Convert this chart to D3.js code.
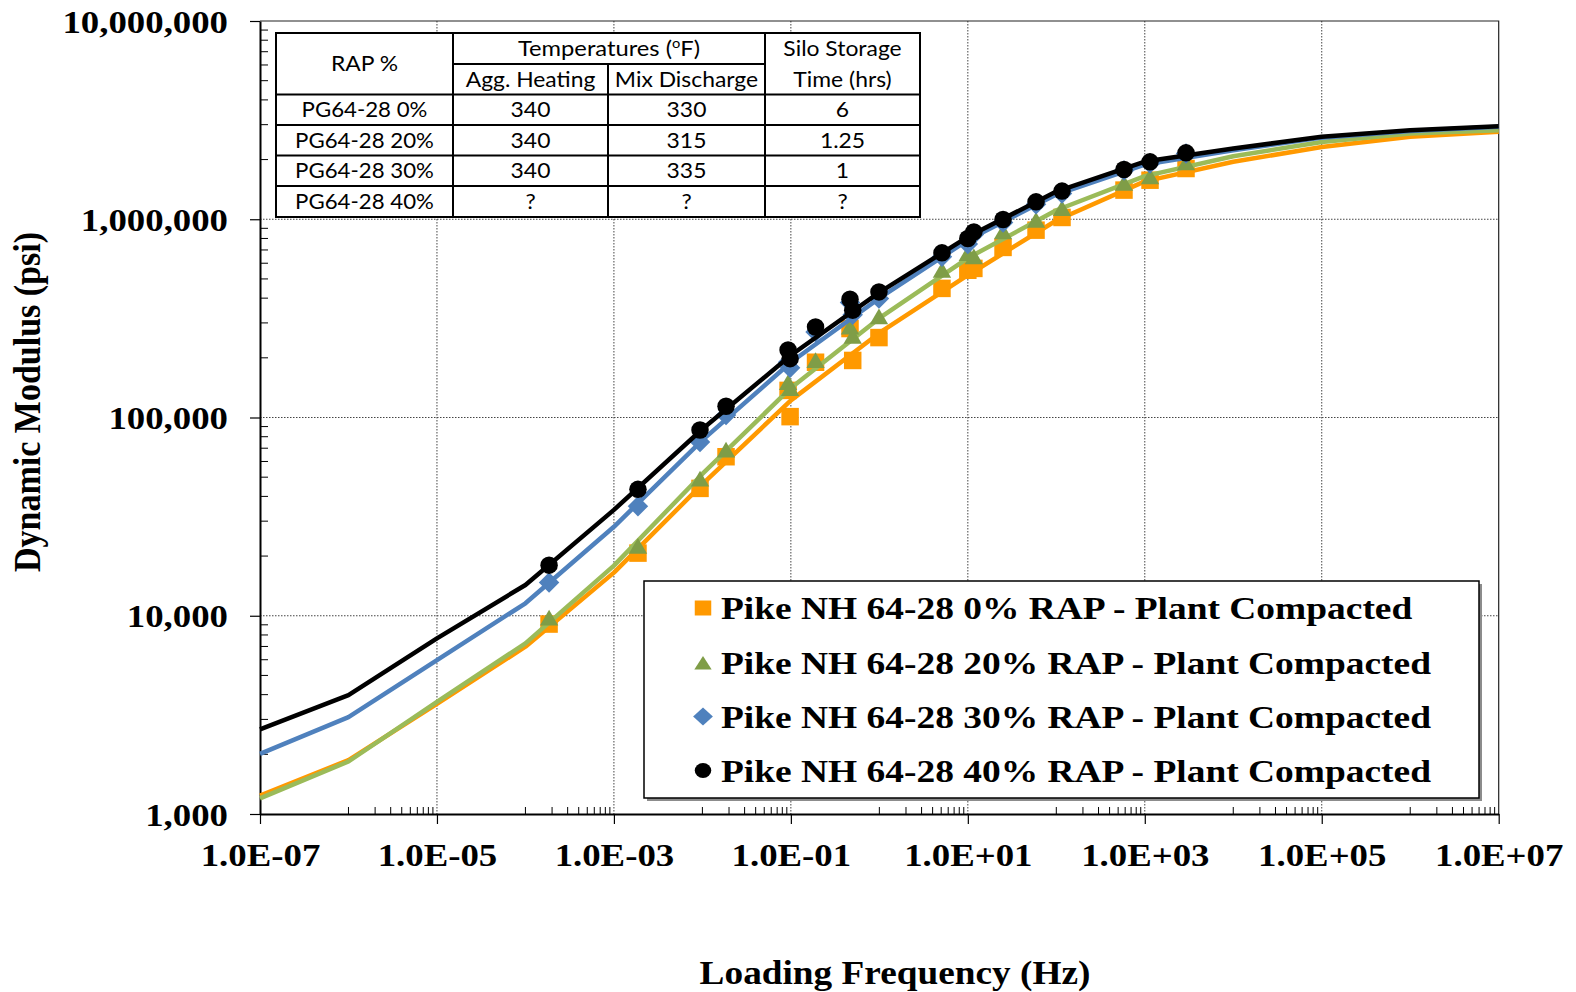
<!DOCTYPE html>
<html>
<head>
<meta charset="utf-8">
<script src="https://cdn.jsdelivr.net/npm/d3@7"></script>
<style>
  body { margin: 0; background: #fff; }
  svg { display: block; }
</style>
</head>
<body>
<div id="chart"></div>
<script>
// reduced loading frequency of each measured point (Hz)
var freq = [1.85e-4, 1.87e-3, 9.4e-3, 1.85e-2, 0.093, 0.098, 0.19, 0.466, 0.50, 0.99,
            5.1, 10.0, 11.7, 25, 59, 116, 582, 1146, 2924];

// measured dynamic modulus (psi)
var mod0  = [9080, 20700, 43900, 63400, 137000, 101000, 190000, 281000, 194000, 253000,
             448000, 553000, 565000, 721000, 881000, 1021000, 1403000, 1574000, 1803000];
var mod20 = [9730, 22400, 48900, 68500, 150000, 140000, 194000, 286000, 257000, 322000,
             553000, 671000, 646000, 863000, 989000, 1133000, 1517000, 1637000, 1928000];
var mod30 = [14700, 35700, 75300, 103000, 190000, 178000, 270000, 380000, 330000, 398000,
             646000, 750000, 838000, 964000, 1189000, 1349000, 1762000, 1910000, 2148000];
var mod40 = [18000, 43400, 86500, 114000, 219000, 198000, 286000, 395000, 348000, 430000,
             677000, 800000, 863000, 997000, 1224000, 1387000, 1783000, 1948000, 2163000];

// fitted master curves
var fitFreq = [1e-7, 1e-6, 1e-5, 1e-4, 1e-3, 1e-2, 1e-1, 1, 10, 100, 1e3, 1e4, 1e5, 1e6, 1e7];
var fit0  = [1240, 1870, 3590, 6980, 16500, 46100, 122000, 267000, 522000, 986000, 1553000, 1950000, 2316000, 2605000, 2760000];
var fit20 = [1200, 1840, 3680, 7260, 17900, 51900, 141000, 317000, 637000, 1110000, 1650000, 2080000, 2455000, 2710000, 2810000];
var fit30 = [2010, 3080, 5980, 11560, 28100, 76900, 190000, 400000, 785000, 1333000, 1888000, 2230000, 2580000, 2790000, 2930000];
var fit40 = [2670, 3980, 7690, 14300, 34200, 87500, 206000, 428000, 815000, 1380000, 1954000, 2275000, 2605000, 2810000, 2945000];

var seriesNames = ["Pike NH 64-28 0% RAP - Plant Compacted",
                   "Pike NH 64-28 20% RAP - Plant Compacted",
                   "Pike NH 64-28 30% RAP - Plant Compacted",
                   "Pike NH 64-28 40% RAP - Plant Compacted"];

var xTicks = [1e-7, 1e-5, 1e-3, 1e-1, 1e1, 1e3, 1e5, 1e7];
var xTickLabels = ["1.0E-07", "1.0E-05", "1.0E-03", "1.0E-01", "1.0E+01", "1.0E+03", "1.0E+05", "1.0E+07"];
var yTicks = [1e3, 1e4, 1e5, 1e6, 1e7];
var yTickLabels = ["1,000", "10,000", "100,000", "1,000,000", "10,000,000"];

// table inset
var tableRap = ["PG64-28 0%", "PG64-28 20%", "PG64-28 30%", "PG64-28 40%"];
var aggHeating = ["340", "340", "340", "?"];
var mixDischarge = ["330", "315", "335", "?"];
var siloTime = ["6", "1.25", "1", "?"];

var W = 1576, H = 992;
var plot = {left: 260, right: 1498.7, top: 21, bottom: 814};
var SX = 1.15;   // the picture is a bit stretched sideways
var serif = "'Liberation Serif', 'Times New Roman', serif";
var sans = "Lato, 'Open Sans', sans-serif";

var x = d3.scaleLog().domain([1e-7, 1e7]).range([plot.left, plot.right]);
var y = d3.scaleLog().domain([1e3, 1e7]).range([plot.bottom, plot.top]);

var svg = d3.select("#chart").append("svg")
    .attr("width", W)
    .attr("height", H);

function stext(g, px, py, str, size, family, weight, anchor, sx) {
  return g.append("text")
      .attr("transform", "translate(" + px + "," + py + ") scale(" + (sx || SX) + ",1)")
      .attr("text-anchor", anchor || "start")
      .style("font-family", family)
      .style("font-weight", weight)
      .style("font-size", size + "px")
      .attr("fill", "#000")
      .text(str);
}

// gridlines
var grid = svg.append("g");
grid.selectAll("line.vg")
    .data(xTicks.slice(1, -1))
  .enter().append("line")
    .attr("x1", function(d) { return x(d); })
    .attr("x2", function(d) { return x(d); })
    .attr("y1", plot.top).attr("y2", plot.bottom)
    .attr("stroke", "#444").attr("stroke-width", 1)
    .attr("stroke-dasharray", "1.5,1.5");
grid.selectAll("line.hg")
    .data(yTicks.slice(1, -1))
  .enter().append("line")
    .attr("y1", function(d) { return y(d); })
    .attr("y2", function(d) { return y(d); })
    .attr("x1", plot.left).attr("x2", plot.right)
    .attr("stroke", "#444").attr("stroke-width", 1)
    .attr("stroke-dasharray", "1.5,1.5");

// plot area border (top and right)
svg.append("path")
    .attr("d", "M" + plot.left + "," + plot.top + "H" + plot.right + "V" + plot.bottom)
    .attr("fill", "none").attr("stroke", "#222").attr("stroke-width", 1.2);

// minor ticks
var xMinor = [];
for (var m = -7; m < 7; m += 2) {
  for (var k = 1; k <= 9; k++) xMinor.push(k * Math.pow(10, m + 1));
}
svg.append("g").selectAll("line")
    .data(xMinor)
  .enter().append("line")
    .attr("x1", function(d) { return x(d); })
    .attr("x2", function(d) { return x(d); })
    .attr("y1", plot.bottom).attr("y2", plot.bottom - 7)
    .attr("stroke", "#000").attr("stroke-width", 1);

var yMinor = [];
for (var dd = 3; dd < 7; dd++) {
  for (var kk = 2; kk <= 9; kk++) yMinor.push(kk * Math.pow(10, dd));
}
svg.append("g").selectAll("line")
    .data(yMinor)
  .enter().append("line")
    .attr("y1", function(d) { return y(d); })
    .attr("y2", function(d) { return y(d); })
    .attr("x1", plot.left).attr("x2", plot.left + 8)
    .attr("stroke", "#000").attr("stroke-width", 1);

// axes
var xAxis = svg.append("g")
    .attr("transform", "translate(0," + plot.bottom + ")")
    .call(d3.axisBottom(x).tickValues(xTicks).tickSize(10).tickSizeOuter(0)
      .tickFormat(function(d, i) { return xTickLabels[i]; }));
xAxis.select(".domain").attr("stroke-width", 2);
xAxis.selectAll(".tick line").attr("stroke-width", 1.2);
xAxis.selectAll(".tick text")
    .attr("y", null).attr("dy", null)
    .attr("transform", "translate(0,52) scale(" + SX + ",1)")
    .style("font-family", serif).style("font-weight", "bold").style("font-size", "32px")
    .attr("fill", "#000");

var yAxis = svg.append("g")
    .attr("transform", "translate(" + plot.left + ",0)")
    .call(d3.axisLeft(y).tickValues(yTicks).tickSize(10).tickSizeOuter(0)
      .tickFormat(function(d, i) { return yTickLabels[i]; }));
yAxis.select(".domain").attr("stroke-width", 2);
yAxis.selectAll(".tick line").attr("stroke-width", 1.2);
yAxis.selectAll(".tick text")
    .attr("x", null).attr("dy", null)
    .attr("transform", "translate(-32,11) scale(" + SX + ",1)")
    .style("font-family", serif).style("font-weight", "bold").style("font-size", "32px")
    .attr("fill", "#000");

// axis titles
stext(svg, 895, 984, "Loading Frequency (Hz)", 33, serif, "bold", "middle", 1.13);
svg.append("text")
    .attr("transform", "translate(40,402) rotate(-90) scale(1,1.13)")
    .attr("text-anchor", "middle")
    .style("font-family", serif).style("font-weight", "bold").style("font-size", "34px")
    .text("Dynamic Modulus (psi)");

// series
var markerPaths = {
  square:   function(s) { var h = s / 2; return "M" + -h + "," + -h + "H" + h + "V" + h + "H" + -h + "Z"; },
  triangle: function(s) { var h = s / 2; return "M0," + (-h * 0.95) + "L" + (h * 1.05) + "," + (h * 0.85) + "L" + (-h * 1.05) + "," + (h * 0.85) + "Z"; },
  diamond:  function(s) { var h = s / 2 + 1.5; return "M0," + -h + "L" + h + ",0L0," + h + "L" + -h + ",0Z"; },
  circle:   function(s) { var r = s / 2; return "M" + r + ",0A" + r + "," + r + " 0 1,1 " + -r + ",0A" + r + "," + r + " 0 1,1 " + r + ",0Z"; }
};

var series = [
  {name: seriesNames[0], mod: mod0,  fit: fit0,  line: "#FF9900", fill: "#FF9900", shape: "square"},
  {name: seriesNames[1], mod: mod20, fit: fit20, line: "#9BBB59", fill: "#7F9D47", shape: "triangle"},
  {name: seriesNames[2], mod: mod30, fit: fit30, line: "#4F81BD", fill: "#4F81BD", shape: "diamond"},
  {name: seriesNames[3], mod: mod40, fit: fit40, line: "#000000", fill: "#000000", shape: "circle"}
];

var line = d3.line()
    .x(function(d) { return x(d[0]); })
    .y(function(d) { return y(d[1]); });

series.forEach(function(s) {
  svg.append("path")
      .datum(d3.zip(fitFreq, s.fit))
      .attr("fill", "none")
      .attr("stroke", s.line)
      .attr("stroke-width", 4.5)
      .attr("stroke-linejoin", "round")
      .attr("d", line);

  svg.append("g").selectAll("path")
      .data(d3.zip(freq, s.mod))
    .enter().append("path")
      .attr("transform", function(d) { return "translate(" + x(d[0]) + "," + y(d[1]) + ")"; })
      .attr("d", markerPaths[s.shape](17.5))
      .attr("fill", s.fill);
});

// data table
var tbl = svg.append("g");
var colX = [276, 453, 608, 765, 920];
var rowY = [33, 94.5, 125, 155.5, 186, 217];
var midY = 64;
tbl.append("rect")
    .attr("x", colX[0]).attr("y", rowY[0])
    .attr("width", colX[4] - colX[0]).attr("height", rowY[5] - rowY[0])
    .attr("fill", "#fff").attr("stroke", "#000").attr("stroke-width", 2);
[colX[1], colX[3]].forEach(function(cx) {
  tbl.append("line").attr("x1", cx).attr("x2", cx).attr("y1", rowY[0]).attr("y2", rowY[5])
      .attr("stroke", "#000").attr("stroke-width", 2);
});
tbl.append("line").attr("x1", colX[2]).attr("x2", colX[2]).attr("y1", midY).attr("y2", rowY[5])
    .attr("stroke", "#000").attr("stroke-width", 2);
tbl.append("line").attr("x1", colX[1]).attr("x2", colX[3]).attr("y1", midY).attr("y2", midY)
    .attr("stroke", "#000").attr("stroke-width", 2);
rowY.slice(1, 5).forEach(function(ry) {
  tbl.append("line").attr("x1", colX[0]).attr("x2", colX[4]).attr("y1", ry).attr("y2", ry)
      .attr("stroke", "#000").attr("stroke-width", 2);
});

function cx(i) { return (colX[i] + colX[i + 1]) / 2; }
var tfs = 21, tsx = 1.09, base = 7.5;
stext(tbl, cx(0), (rowY[0] + rowY[1]) / 2 + base, "RAP %", tfs, sans, "normal", "middle", tsx);
var temp = stext(tbl, (colX[1] + colX[3]) / 2, (rowY[0] + midY) / 2 + base, "", tfs, sans, "normal", "middle", 1.13);
temp.append("tspan").text("Temperatures (");
temp.append("tspan").attr("dy", -8).style("font-size", "13px").text("o");
temp.append("tspan").attr("dy", 8).text("F)");
stext(tbl, cx(1), (midY + rowY[1]) / 2 + base, "Agg. Heating", tfs, sans, "normal", "middle", tsx);
stext(tbl, cx(2), (midY + rowY[1]) / 2 + base, "Mix Discharge", tfs, sans, "normal", "middle", tsx);
stext(tbl, cx(3), (rowY[0] + midY) / 2 + base, "Silo Storage", tfs, sans, "normal", "middle", tsx);
stext(tbl, cx(3), (midY + rowY[1]) / 2 + base, "Time (hrs)", tfs, sans, "normal", "middle", tsx);
tableRap.forEach(function(r, i) {
  var cy = (rowY[i + 1] + rowY[i + 2]) / 2 + base;
  stext(tbl, cx(0), cy, r, tfs, sans, "normal", "middle", 1.06);
  stext(tbl, cx(1), cy, aggHeating[i], tfs, sans, "normal", "middle", tsx);
  stext(tbl, cx(2), cy, mixDischarge[i], tfs, sans, "normal", "middle", tsx);
  stext(tbl, cx(3), cy, siloTime[i], tfs, sans, "normal", "middle", tsx);
});

// legend
var lg = svg.append("g");
var lgBox = {x: 644, y: 581, w: 835, h: 217};
lg.append("rect")
    .attr("x", lgBox.x + 3).attr("y", lgBox.y + 3)
    .attr("width", lgBox.w).attr("height", lgBox.h)
    .attr("fill", "#8c8c8c");
lg.append("rect")
    .attr("x", lgBox.x).attr("y", lgBox.y)
    .attr("width", lgBox.w).attr("height", lgBox.h)
    .attr("fill", "#fff").attr("stroke", "#000").attr("stroke-width", 1.5);
var lgRows = [608, 663, 716.5, 770.5];
series.forEach(function(s, i) {
  lg.append("path")
      .attr("transform", "translate(703," + lgRows[i] + ") scale(1.1,1)")
      .attr("d", markerPaths[s.shape](15))
      .attr("fill", s.fill);
  stext(lg, 721, lgRows[i] + 11, s.name, 32, serif, "bold", "start", 1.17);
});
</script>
</body>
</html>
